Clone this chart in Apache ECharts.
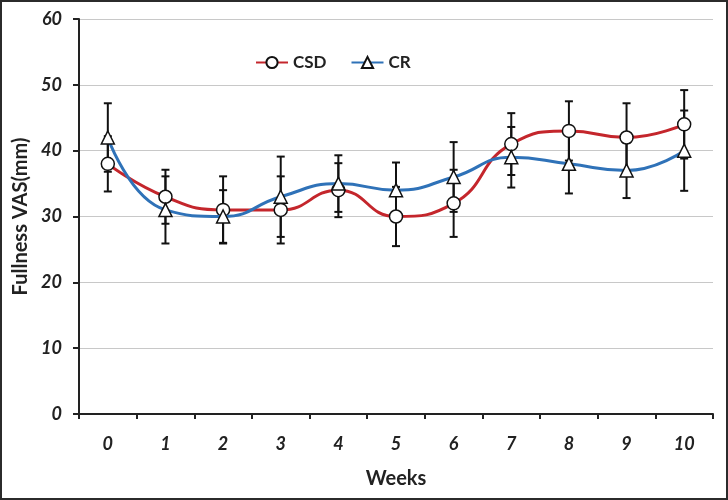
<!DOCTYPE html>
<html>
<head>
<meta charset="utf-8">
<script src="https://cdn.jsdelivr.net/npm/echarts@6/dist/echarts.min.js"></script>
<style>
html,body{margin:0;padding:0;background:#fff;}
#chart{width:728px;height:500px;}
</style>
</head>
<body>
<div id="chart"></div>
<script>
var weeks = ['0','1','2','3','4','5','6','7','8','9','10'];
var csd = [38, 33, 31, 31, 34, 30, 32, 41, 43, 42, 44];
var cr = [42, 31, 30, 33, 35, 34, 36, 39, 38, 37, 40];
var csdSD = [4.2, 4.1, 5.1, 5.1, 4.1, 4.5, 5.1, 4.7, 4.5, 5.2, 5.2];
var crSD = [5.2, 5.1, 4.0, 6.1, 4.3, 4.2, 5.3, 4.6, 4.5, 4.2, 6.1];
var yTicks = [0, 10, 20, 30, 40, 50, 60];

function errData(vals, sds) {
  return vals.map(function (v, i) { return [i, v - sds[i], v + sds[i]]; });
}
function renderErr(params, api) {
  var x = api.value(0);
  var lo = api.coord([x, api.value(1)]);
  var hi = api.coord([x, api.value(2)]);
  var hw = 4;
  var st = { stroke: '#111', lineWidth: 2 };
  return {
    type: 'group',
    children: [
      { type: 'line', shape: { x1: lo[0], y1: lo[1], x2: hi[0], y2: hi[1] }, style: st },
      { type: 'line', shape: { x1: lo[0] - hw, y1: lo[1], x2: lo[0] + hw, y2: lo[1] }, style: st },
      { type: 'line', shape: { x1: hi[0] - hw, y1: hi[1], x2: hi[0] + hw, y2: hi[1] }, style: st }
    ]
  };
}

var FONT = 'Lato, "Open Sans", sans-serif';
var chart = echarts.init(document.getElementById('chart'), null, { renderer: 'canvas' });
chart.setOption({
  animation: false,
  backgroundColor: '#fff',
  graphic: [{
    type: 'rect', shape: { x: 1, y: 1, width: 726, height: 498 },
    style: { fill: 'none', stroke: '#2b2b2b', lineWidth: 2 }, z: 100
  }],
  legend: {
    left: 250, top: 49,
    itemWidth: 32, itemHeight: 14, itemGap: 24,
    textStyle: { fontFamily: FONT, fontWeight: 'bold', fontSize: 17, color: '#222' },
    data: ['CSD', 'CR']
  },
  grid: { left: 79, top: 19, right: 15, bottom: 86 },
  xAxis: {
    type: 'category', data: weeks, boundaryGap: true,
    name: 'Weeks', nameLocation: 'middle', nameGap: 55,
    nameTextStyle: { fontFamily: FONT, fontWeight: 'bold', fontSize: 20, color: '#222' },
    axisLine: { lineStyle: { color: '#222', width: 2 } },
    axisTick: { show: true, length: 5, lineStyle: { color: '#222', width: 2 } },
    axisLabel: { margin: 21, fontFamily: FONT, fontWeight: 'bold', fontStyle: 'italic', fontSize: 18, color: '#222' },
    splitLine: { show: false }
  },
  yAxis: {
    type: 'value', min: yTicks[0], max: yTicks[yTicks.length - 1], interval: 10,
    name: 'Fullness VAS(mm)', nameLocation: 'middle', nameGap: 45,
    nameTextStyle: { fontFamily: FONT, fontWeight: 'bold', fontSize: 20, color: '#222' },
    axisLine: { show: true, lineStyle: { color: '#222', width: 2 } },
    axisTick: { show: true, length: 6, lineStyle: { color: '#222', width: 2 } },
    axisLabel: { margin: 17, fontFamily: FONT, fontWeight: 'bold', fontStyle: 'italic', fontSize: 18, color: '#222' },
    splitLine: { show: true, lineStyle: { color: '#c8c8c8', width: 1 } }
  },
  series: [
    {
      type: 'custom', name: 'errCSD', renderItem: renderErr, data: errData(csd, csdSD), z: 2, silent: true
    },
    {
      type: 'custom', name: 'errCR', renderItem: renderErr, data: errData(cr, crSD), z: 2, silent: true
    },
    {
      name: 'CSD', type: 'line', data: csd, smooth: 0.5, z: 3,
      symbol: 'circle', symbolSize: 13, showSymbol: true,
      lineStyle: { color: '#c4262c', width: 3 },
      itemStyle: { color: '#fff', borderColor: '#111', borderWidth: 1.5 },
      color: '#c4262c'
    },
    {
      name: 'CR', type: 'line', data: cr, smooth: 0.5, z: 4,
      symbol: 'triangle', symbolSize: 13, showSymbol: true,
      lineStyle: { color: '#2f72b8', width: 3 },
      itemStyle: { color: '#fff', borderColor: '#111', borderWidth: 1.5 },
      color: '#2f72b8'
    }
  ]
});
</script>
</body>
</html>
